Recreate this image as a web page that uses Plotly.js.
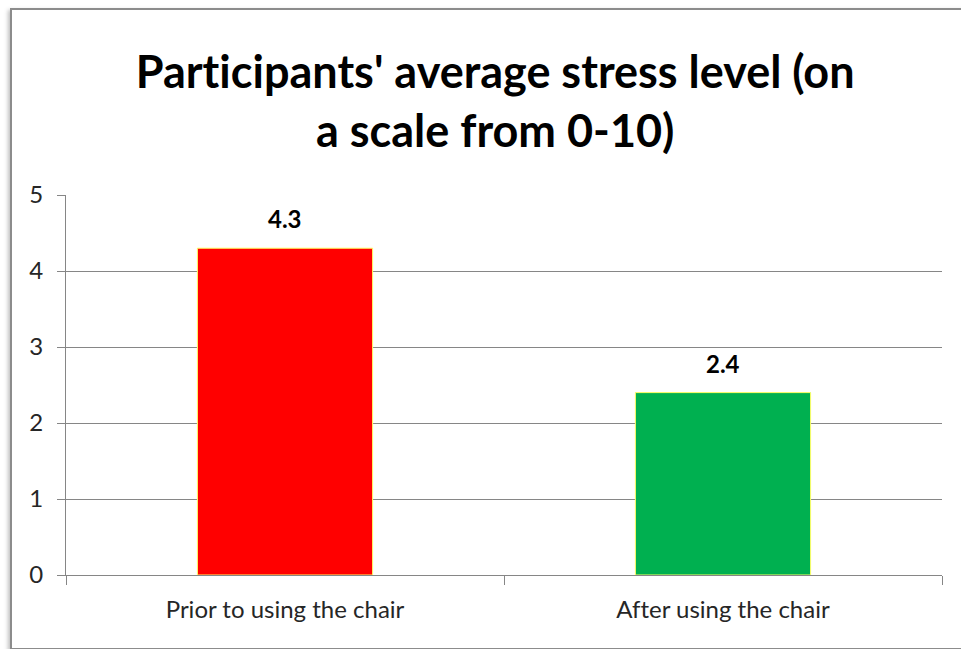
<!DOCTYPE html>
<html>
<head>
<meta charset="utf-8">
<script src="https://cdn.plot.ly/plotly-3.0.1.min.js"></script>
<style>
html,body{margin:0;padding:0;background:#fff;width:961px;height:649px;overflow:hidden;}
#frame{position:absolute;left:10px;top:8px;width:970px;height:638px;border-top:2px solid #8c8c8c;border-left:2px solid #8c8c8c;border-bottom:2px solid #8c8c8c;box-shadow:-2px 2px 4px rgba(0,0,0,0.25);}
#chart{position:absolute;left:0;top:0;width:961px;height:649px;}
#chart text{font-variant-ligatures:none;font-feature-settings:"liga" 0, "clig" 0;}
</style>
</head>
<body>
<div id="frame"></div>
<div id="chart"></div>
<script>
const categories = ["Prior to using the chair", "After using the chair"];
const values = [4.3, 2.4];
const barColors = ["#FF0000", "#00B050"];
const labels = ["4.3", "2.4"];

const trace = {
  type: "bar",
  x: categories,
  y: values,
  width: 0.4,
  marker: {color: barColors, line: {color: "#FFFF66", width: 1}},
  hoverinfo: "none"
};

const annotations = categories.map((c, i) => ({
  x: c, y: values[i], xref: "x", yref: "y",
  text: "<b>" + labels[i] + "</b>",
  showarrow: false, yanchor: "bottom", yshift: 13,
  font: {family: "Lato, 'Open Sans', sans-serif", size: 24, color: "#000"}
}));

const layout = {
  width: 961, height: 649,
  margin: {l: 66, r: 19, t: 195, b: 74},
  paper_bgcolor: "rgba(0,0,0,0)",
  plot_bgcolor: "rgba(0,0,0,0)",
  showlegend: false,
  title: {
    text: "<b>Participants' average stress level (on<br>a scale from 0-10)</b>",
    font: {family: "Lato, 'Open Sans', sans-serif", size: 45, color: "#000"},
    x: 0.49, xref: "paper", xanchor: "center",
    y: 1 - 88/649, yref: "container", yanchor: "top"
  },
  xaxis: {
    type: "category",
    showline: true, linecolor: "#868686", linewidth: 1,
    ticks: "outside", tickson: "boundaries", ticklen: 9, tickcolor: "#868686",
    tickfont: {family: "Lato, 'Open Sans', sans-serif", size: 24, color: "#262626"},
    ticklabelstandoff: 13,
    showgrid: false
  },
  yaxis: {
    range: [0, 5], dtick: 1, tick0: 0,
    showline: true, linecolor: "#868686", linewidth: 1,
    ticks: "outside", ticklen: 8, tickcolor: "#868686",
    gridcolor: "#868686", gridwidth: 1,
    zeroline: false,
    tickfont: {family: "Lato, 'Open Sans', sans-serif", size: 24, color: "#262626"},
    ticklabelstandoff: 9
  },
  annotations: annotations
};

Plotly.newPlot("chart", [trace], layout, {displayModeBar: false, staticPlot: true});
</script>
</body>
</html>
